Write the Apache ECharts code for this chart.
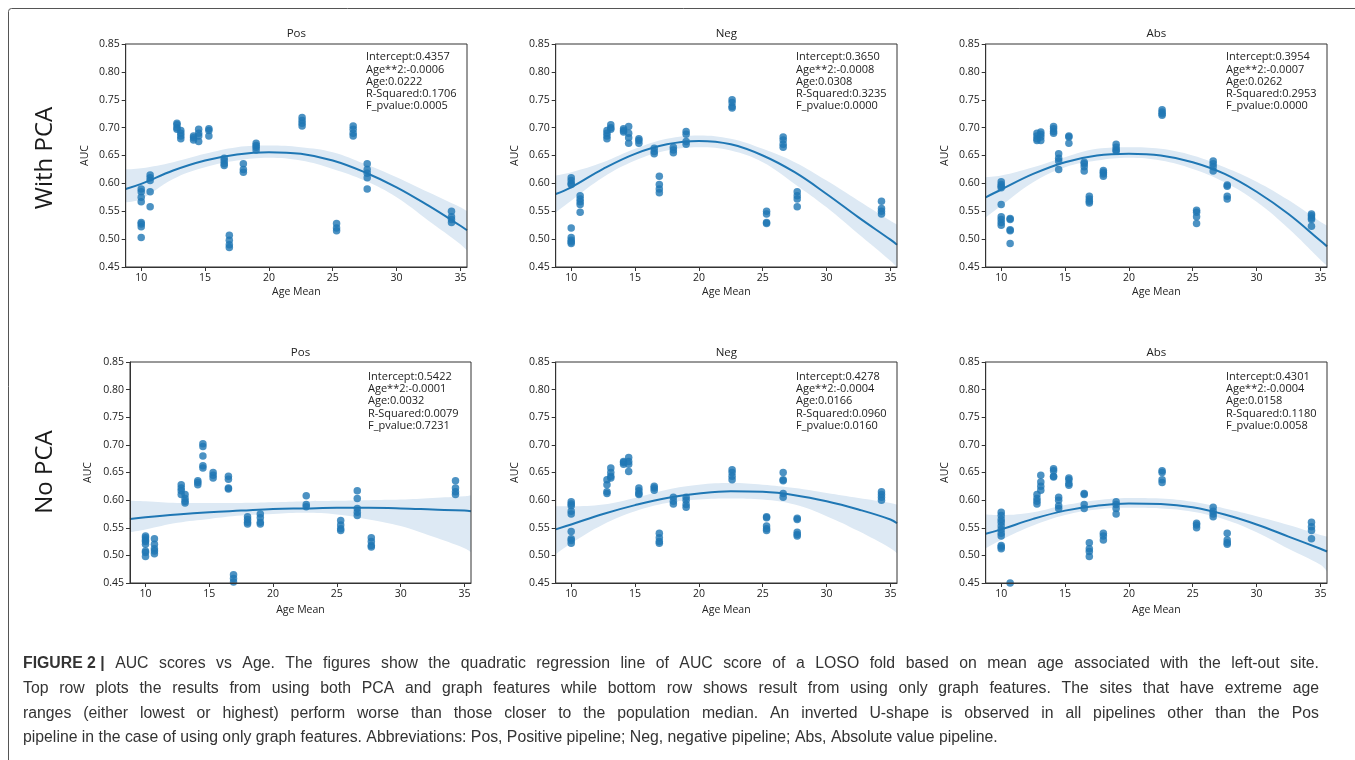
<!DOCTYPE html>
<html><head><meta charset="utf-8">
<script src="https://cdn.jsdelivr.net/npm/echarts@6/dist/echarts.min.js"></script>
<style>html,body{margin:0;padding:0;background:#fff}#c{width:1355px;height:760px}</style>
</head><body><div id="c"></div>
<script>
// ---------- data ----------
const siteAge = [10.0, 10.7, 12.8, 13.1, 14.1, 14.5, 15.3, 16.5, 16.9, 18.0, 19.0, 22.6, 25.3, 26.6, 27.7, 34.3];
const panelTitles = ['Pos', 'Neg', 'Abs', 'Pos', 'Neg', 'Abs'];
const rowLabels = ['With PCA', 'No PCA'];
const xTicks = [10, 15, 20, 25, 30, 35];
const yTicks = ['0.45', '0.50', '0.55', '0.60', '0.65', '0.70', '0.75', '0.80', '0.85'];
const xAxisName = 'Age Mean';
const yAxisName = 'AUC';
const curveAge = [8.785, 10, 12.5, 15, 17.5, 20, 22.5, 25, 27.5, 30, 32.5, 35, 35.515];

// AUC of LOSO folds, one list per site (same order as siteAge)
const pcaPosAuc = [
  [0.590, 0.585, 0.575, 0.567, 0.530, 0.527, 0.522, 0.503],
  [0.615, 0.610, 0.605, 0.585, 0.558],
  [0.708, 0.705, 0.700, 0.697],
  [0.695, 0.690, 0.685, 0.680],
  [0.685, 0.682, 0.678],
  [0.697, 0.690, 0.685, 0.675],
  [0.698, 0.695, 0.685],
  [0.645, 0.640, 0.635, 0.632],
  [0.507, 0.498, 0.490, 0.485],
  [0.635, 0.625, 0.620],
  [0.672, 0.668, 0.665, 0.660],
  [0.718, 0.713, 0.708, 0.703],
  [0.528, 0.520, 0.515],
  [0.703, 0.697, 0.690, 0.685],
  [0.635, 0.625, 0.618, 0.610, 0.590],
  [0.550, 0.540, 0.535, 0.530]
];
const pcaNegAuc = [
  [0.610, 0.605, 0.600, 0.598, 0.520, 0.503, 0.498, 0.495, 0.492],
  [0.578, 0.572, 0.567, 0.562, 0.548],
  [0.695, 0.690, 0.685, 0.680],
  [0.705, 0.700, 0.697],
  [0.698, 0.695, 0.692],
  [0.702, 0.690, 0.682, 0.672],
  [0.680, 0.677, 0.672],
  [0.663, 0.657, 0.653],
  [0.613, 0.598, 0.590, 0.583],
  [0.665, 0.660, 0.655],
  [0.693, 0.688, 0.675, 0.670],
  [0.750, 0.745, 0.738, 0.735],
  [0.550, 0.545, 0.530, 0.528],
  [0.683, 0.678, 0.670, 0.665],
  [0.585, 0.578, 0.572, 0.558],
  [0.568, 0.555, 0.550, 0.545]
];
const pcaAbsAuc = [
  [0.603, 0.598, 0.595, 0.592, 0.562, 0.540, 0.535, 0.530, 0.525],
  [0.537, 0.535, 0.517, 0.515, 0.492],
  [0.690, 0.685, 0.680, 0.677],
  [0.692, 0.688, 0.683, 0.677],
  [0.702, 0.698, 0.693, 0.690],
  [0.653, 0.645, 0.640, 0.625],
  [0.685, 0.683, 0.672],
  [0.638, 0.635, 0.630, 0.622],
  [0.577, 0.572, 0.568, 0.565],
  [0.623, 0.620, 0.617, 0.613],
  [0.670, 0.665, 0.660, 0.658],
  [0.732, 0.728, 0.725, 0.722],
  [0.552, 0.548, 0.540, 0.528],
  [0.640, 0.635, 0.630, 0.622],
  [0.597, 0.595, 0.577, 0.572],
  [0.545, 0.542, 0.538, 0.535, 0.523]
];
const rawPosAuc = [
  [0.535, 0.532, 0.528, 0.525, 0.520, 0.508, 0.505, 0.498],
  [0.530, 0.520, 0.512, 0.508, 0.503],
  [0.628, 0.622, 0.617, 0.610],
  [0.610, 0.603, 0.598, 0.595],
  [0.635, 0.632, 0.628],
  [0.702, 0.697, 0.680, 0.662, 0.658],
  [0.650, 0.645, 0.640],
  [0.643, 0.638, 0.622, 0.620],
  [0.465, 0.458, 0.452],
  [0.570, 0.565, 0.560, 0.557],
  [0.575, 0.568, 0.560, 0.557],
  [0.608, 0.592, 0.588],
  [0.563, 0.555, 0.548, 0.545],
  [0.617, 0.603, 0.585, 0.578, 0.572],
  [0.532, 0.525, 0.518, 0.515],
  [0.635, 0.622, 0.615, 0.610]
];
const rawNegAuc = [
  [0.597, 0.593, 0.590, 0.580, 0.575, 0.543, 0.530, 0.527, 0.522],
  [],
  [0.637, 0.628, 0.615, 0.612],
  [0.658, 0.650, 0.643, 0.640],
  [0.670, 0.668, 0.665],
  [0.677, 0.670, 0.665, 0.652],
  [0.622, 0.617, 0.612, 0.610],
  [0.625, 0.622, 0.618],
  [0.540, 0.532, 0.525, 0.522],
  [0.605, 0.598, 0.593],
  [0.605, 0.600, 0.592, 0.587],
  [0.655, 0.650, 0.643, 0.637],
  [0.570, 0.568, 0.553, 0.548, 0.545],
  [0.650, 0.637, 0.635, 0.612, 0.605],
  [0.567, 0.565, 0.542, 0.538, 0.535],
  [0.615, 0.610, 0.605, 0.600]
];
const rawAbsAuc = [
  [0.578, 0.572, 0.565, 0.560, 0.553, 0.547, 0.540, 0.535, 0.518, 0.515, 0.512],
  [0.450],
  [0.610, 0.603, 0.598, 0.593],
  [0.645, 0.633, 0.625, 0.618],
  [0.657, 0.653, 0.643, 0.642],
  [0.605, 0.600, 0.590, 0.585],
  [0.640, 0.637, 0.630, 0.627],
  [0.612, 0.610, 0.592, 0.585],
  [0.523, 0.512, 0.507, 0.498],
  [0.540, 0.535, 0.528],
  [0.597, 0.592, 0.585, 0.575],
  [0.653, 0.650, 0.637, 0.632],
  [0.558, 0.555, 0.550],
  [0.587, 0.580, 0.575, 0.570],
  [0.540, 0.528, 0.523, 0.520],
  [0.560, 0.552, 0.545, 0.530]
];

// quadratic fit line and 95% CI band, read at curveAge
const pcaPosFit = [0.590, 0.599, 0.623, 0.641, 0.652, 0.656, 0.653, 0.641, 0.620, 0.593, 0.560, 0.524, 0.516];
const pcaPosLo  = [0.566, 0.572, 0.608, 0.629, 0.641, 0.646, 0.641, 0.626, 0.605, 0.575, 0.533, 0.491, 0.480];
const pcaPosHi  = [0.625, 0.627, 0.638, 0.653, 0.665, 0.668, 0.665, 0.656, 0.635, 0.611, 0.584, 0.557, 0.550];
const pcaNegFit = [0.581, 0.593, 0.626, 0.653, 0.670, 0.676, 0.670, 0.650, 0.620, 0.581, 0.539, 0.499, 0.490];
const pcaNegLo  = [0.548, 0.569, 0.611, 0.641, 0.659, 0.665, 0.659, 0.638, 0.599, 0.557, 0.509, 0.461, 0.449];
const pcaNegHi  = [0.614, 0.620, 0.638, 0.662, 0.680, 0.686, 0.680, 0.662, 0.638, 0.605, 0.569, 0.533, 0.526];
const pcaAbsFit = [0.575, 0.589, 0.617, 0.638, 0.650, 0.653, 0.650, 0.638, 0.617, 0.585, 0.545, 0.497, 0.487];
const pcaAbsLo  = [0.539, 0.560, 0.602, 0.629, 0.641, 0.646, 0.641, 0.626, 0.602, 0.567, 0.519, 0.463, 0.452];
const pcaAbsHi  = [0.611, 0.614, 0.629, 0.647, 0.662, 0.665, 0.662, 0.650, 0.629, 0.603, 0.570, 0.531, 0.524];
const rawPosFit = [0.566, 0.569, 0.574, 0.578, 0.581, 0.584, 0.585, 0.586, 0.586, 0.585, 0.583, 0.581, 0.580];
const rawPosLo  = [0.542, 0.547, 0.559, 0.566, 0.572, 0.575, 0.577, 0.574, 0.565, 0.553, 0.534, 0.513, 0.506];
const rawPosHi  = [0.599, 0.598, 0.595, 0.595, 0.595, 0.596, 0.598, 0.599, 0.600, 0.601, 0.604, 0.607, 0.609];
const rawNegFit = [0.547, 0.556, 0.575, 0.591, 0.604, 0.612, 0.616, 0.615, 0.609, 0.598, 0.583, 0.565, 0.558];
const rawNegLo  = [0.502, 0.522, 0.556, 0.580, 0.595, 0.601, 0.603, 0.601, 0.592, 0.571, 0.544, 0.513, 0.504];
const rawNegHi  = [0.589, 0.589, 0.592, 0.604, 0.619, 0.628, 0.631, 0.628, 0.622, 0.613, 0.604, 0.595, 0.592];
const rawAbsFit = [0.539, 0.547, 0.566, 0.581, 0.590, 0.594, 0.593, 0.587, 0.574, 0.556, 0.534, 0.512, 0.507];
const rawAbsLo  = [0.513, 0.528, 0.554, 0.573, 0.583, 0.586, 0.585, 0.579, 0.565, 0.542, 0.512, 0.483, 0.471];
const rawAbsHi  = [0.574, 0.573, 0.578, 0.591, 0.600, 0.604, 0.603, 0.597, 0.585, 0.571, 0.555, 0.537, 0.534];

const pcaPosStats = ['Intercept:0.4357', 'Age**2:-0.0006', 'Age:0.0222', 'R-Squared:0.1706', 'F_pvalue:0.0005'];
const pcaNegStats = ['Intercept:0.3650', 'Age**2:-0.0008', 'Age:0.0308', 'R-Squared:0.3235', 'F_pvalue:0.0000'];
const pcaAbsStats = ['Intercept:0.3954', 'Age**2:-0.0007', 'Age:0.0262', 'R-Squared:0.2953', 'F_pvalue:0.0000'];
const rawPosStats = ['Intercept:0.5422', 'Age**2:-0.0001', 'Age:0.0032', 'R-Squared:0.0079', 'F_pvalue:0.7231'];
const rawNegStats = ['Intercept:0.4278', 'Age**2:-0.0004', 'Age:0.0166', 'R-Squared:0.0960', 'F_pvalue:0.0160'];
const rawAbsStats = ['Intercept:0.4301', 'Age**2:-0.0004', 'Age:0.0158', 'R-Squared:0.1180', 'F_pvalue:0.0058'];

const captionLead = 'FIGURE 2 |';
const captionLines = [
  'AUC scores vs Age. The figures show the quadratic regression line of AUC score of a LOSO fold based on mean age associated with the left-out site.',
  'Top row plots the results from using both PCA and graph features while bottom row shows result from using only graph features. The sites that have extreme age',
  'ranges (either lowest or highest) perform worse than those closer to the population median. An inverted U-shape is observed in all pipelines other than the Pos',
  'pipeline in the case of using only graph features. Abbreviations: Pos, Positive pipeline; Neg, negative pipeline; Abs, Absolute value pipeline.'
];

// ---------- build ----------
const panels = [
  { auc: pcaPosAuc, fit: pcaPosFit, lo: pcaPosLo, hi: pcaPosHi, stats: pcaPosStats },
  { auc: pcaNegAuc, fit: pcaNegFit, lo: pcaNegLo, hi: pcaNegHi, stats: pcaNegStats },
  { auc: pcaAbsAuc, fit: pcaAbsFit, lo: pcaAbsLo, hi: pcaAbsHi, stats: pcaAbsStats },
  { auc: rawPosAuc, fit: rawPosFit, lo: rawPosLo, hi: rawPosHi, stats: rawPosStats },
  { auc: rawNegAuc, fit: rawNegFit, lo: rawNegLo, hi: rawNegHi, stats: rawNegStats },
  { auc: rawAbsAuc, fit: rawAbsFit, lo: rawAbsLo, hi: rawAbsHi, stats: rawAbsStats }
];

const boxes = [
  { left: 125.7, top: 44, width: 341.3, height: 223, textX: 366, textY: 51, nameGapY: 35, nameGapX: 20, titleY: 33.5 },
  { left: 555.7, top: 44, width: 341.3, height: 223, textX: 796, textY: 51, nameGapY: 35, nameGapX: 20, titleY: 33.5 },
  { left: 985.7, top: 44, width: 341.3, height: 223, textX: 1226, textY: 51, nameGapY: 35, nameGapX: 20, titleY: 33.5 },
  { left: 130, top: 362, width: 341, height: 221, textX: 368, textY: 370.5, nameGapY: 36, nameGapX: 22, titleY: 352.5 },
  { left: 555.7, top: 362, width: 341.3, height: 221, textX: 796, textY: 370.5, nameGapY: 35, nameGapX: 22, titleY: 352.5 },
  { left: 985.7, top: 362, width: 341.3, height: 221, textX: 1226, textY: 370.5, nameGapY: 35, nameGapX: 22, titleY: 352.5 }
];

const BLUE = '#1f77b4';
const BAND = '#dde9f4';
const FONT = "'Open Sans', 'DejaVu Sans', sans-serif";
const AX = '#333';

const grids = [], xAxes = [], yAxes = [], series = [], graphics = [];
const xMin = curveAge[0], xMax = curveAge[curveAge.length - 1];

panels.forEach((p, i) => {
  const b = boxes[i];
  grids.push({ left: b.left, top: b.top, width: b.width, height: b.height, show: true,
    borderColor: AX, borderWidth: 1, containLabel: false, z: 6 });
  xAxes.push({ gridIndex: i, type: 'value', min: xMin, max: xMax, z: 6,
    name: xAxisName, nameLocation: 'middle', nameGap: b.nameGapX,
    nameTextStyle: { fontFamily: FONT, fontSize: 10.5, color: '#222' },
    axisLine: { show: true, onZero: false, lineStyle: { color: AX, width: 1 } },
    axisTick: { show: true, length: 4, lineStyle: { color: AX }, customValues: xTicks },
    axisLabel: { customValues: xTicks, fontFamily: FONT, fontSize: 10.5, color: '#222', margin: 6 },
    splitLine: { show: false } });
  yAxes.push({ gridIndex: i, type: 'value', min: 0.45, max: 0.85, interval: 0.05, z: 6,
    name: yAxisName, nameLocation: 'middle', nameGap: b.nameGapY, nameRotate: 90,
    nameTextStyle: { fontFamily: FONT, fontSize: 10.5, color: '#222' },
    axisLine: { show: true, onZero: false, lineStyle: { color: AX, width: 1 } },
    axisTick: { show: true, length: 4, lineStyle: { color: AX } },
    axisLabel: { fontFamily: FONT, fontSize: 10.5, color: '#222', margin: 6,
      formatter: v => yTicks.find(t => Math.abs(parseFloat(t) - v) < 1e-6) || v.toFixed(2) },
    splitLine: { show: false } });

  // CI band: upper edge filled light blue down to the axis, lower edge filled white down to the axis
  series.push({ type: 'line', xAxisIndex: i, yAxisIndex: i, smooth: 0.4, symbol: 'none', silent: true,
    data: curveAge.map((x, k) => [x, p.hi[k]]), lineStyle: { width: 0, opacity: 0 },
    areaStyle: { color: BAND, opacity: 1, origin: 'start' }, z: 1 });
  series.push({ type: 'line', xAxisIndex: i, yAxisIndex: i, smooth: 0.4, symbol: 'none', silent: true,
    data: curveAge.map((x, k) => [x, p.lo[k]]), lineStyle: { width: 0, opacity: 0 },
    areaStyle: { color: '#ffffff', opacity: 1, origin: 'start' }, z: 2 });

  const pts = [];
  p.auc.forEach((vals, s) => vals.forEach(v => pts.push([siteAge[s], v])));
  series.push({ type: 'scatter', xAxisIndex: i, yAxisIndex: i, data: pts, symbolSize: 7.5,
    itemStyle: { color: BLUE, opacity: 0.8 }, z: 3, silent: true, clip: false });
  series.push({ type: 'line', xAxisIndex: i, yAxisIndex: i, smooth: 0.4,
    data: curveAge.map((x, k) => [x, p.fit[k]]), symbol: 'none',
    lineStyle: { color: BLUE, width: 2 }, z: 4, silent: true });

  graphics.push({ type: 'text', x: b.left + b.width / 2, y: b.titleY, z: 10,
    style: { text: panelTitles[i], font: "11.5px " + FONT, fill: '#222', align: 'center', verticalAlign: 'middle' } });
  graphics.push({ type: 'text', x: b.textX, y: b.textY, z: 10,
    style: { text: p.stats.join('\n'), font: "11px " + FONT, fill: '#222', lineHeight: 12.3, align: 'left', verticalAlign: 'top' } });
});

// row labels
graphics.push({ type: 'text', x: 45, y: 158, rotation: Math.PI / 2, z: 10,
  style: { text: rowLabels[0], font: "24px " + FONT, fill: '#1a1a1a', align: 'center', verticalAlign: 'middle' } });
graphics.push({ type: 'text', x: 45, y: 472, rotation: Math.PI / 2, z: 10,
  style: { text: rowLabels[1], font: "24px " + FONT, fill: '#1a1a1a', align: 'center', verticalAlign: 'middle' } });

// figure frame
graphics.push({ type: 'rect', shape: { x: 8.5, y: 8.5, width: 1400, height: 800, r: 3 }, z: 0,
  style: { fill: 'none', stroke: '#555', lineWidth: 1 } });

// caption (justified lines, last line left aligned)
const CAP_SIZE = 15.8;
const capFont = CAP_SIZE + "px 'Liberation Sans', Arial, sans-serif";
const capBold = "bold " + CAP_SIZE + "px 'Liberation Sans', Arial, sans-serif";
const capY = [664, 689, 713.5, 738];
const capLeft = 23, capRight = 1319;
const mctx = document.createElement('canvas').getContext('2d');
const measure = (t, f) => { mctx.font = f; return mctx.measureText(t).width; };
captionLines.forEach((line, k) => {
  const tokens = line.split(' ').map(w => ({ t: w, f: capFont }));
  if (k === 0) tokens.unshift({ t: captionLead, f: capBold });
  const widths = tokens.map(o => measure(o.t, o.f));
  const total = widths.reduce((a, c) => a + c, 0);
  const justify = k < captionLines.length - 1;
  const gap = justify ? (capRight - capLeft - total) / (tokens.length - 1) : measure(' ', capFont);
  let x = capLeft;
  tokens.forEach((o, j) => {
    graphics.push({ type: 'text', x: x, y: capY[k], z: 10,
      style: { text: o.t, font: o.f, fill: '#333333', align: 'left', verticalAlign: 'middle' } });
    x += widths[j] + gap;
  });
});

const chart = echarts.init(document.getElementById('c'), null, { renderer: 'canvas' });
chart.setOption({
  animation: false,
  backgroundColor: '#fff',
  grid: grids, xAxis: xAxes, yAxis: yAxes, series: series, graphic: graphics
});
</script></body></html>
